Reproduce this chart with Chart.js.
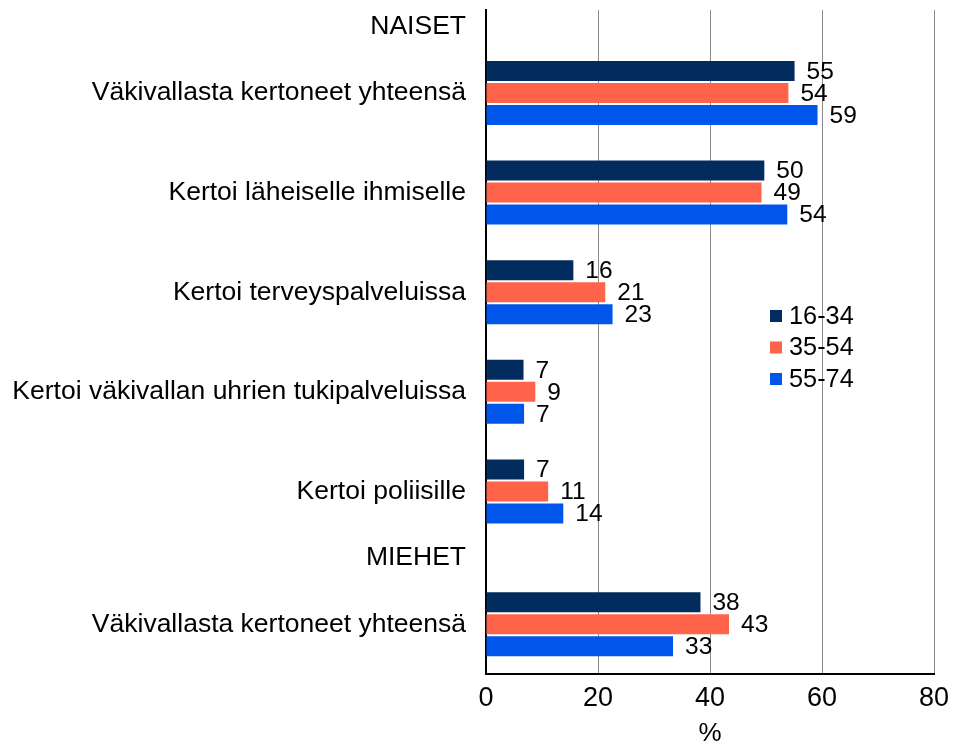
<!DOCTYPE html>
<html lang="fi">
<head>
    <meta charset="UTF-8">
    <title>Väkivallasta kertominen</title>
    <script src="https://cdn.jsdelivr.net/npm/chart.js@4.4.1/dist/chart.umd.min.js"></script>
    <style>
        html, body { margin: 0; padding: 0; background: #fff; }
        .chartBox { width: 954px; height: 745px; }
    </style>
</head>
<body>
    <div class="chartBox">
        <canvas id="myChart"></canvas>
    </div>

    <script>
        // data
        var ageGroups = ['16-34', '35-54', '55-74'];
        var categories = [
            'Väkivallasta kertoneet yhteensä',
            'Kertoi läheiselle ihmiselle',
            'Kertoi terveyspalveluissa',
            'Kertoi väkivallan uhrien tukipalveluissa',
            'Kertoi poliisille',
            'Väkivallasta kertoneet yhteensä'
        ];
        var age16_34 = [55.1, 49.7, 15.6, 6.7, 6.8, 38.3];
        var age35_54 = [54.0, 49.2, 21.3, 8.8, 11.1, 43.4];
        var age55_74 = [59.2, 53.8, 22.6, 6.8, 13.8, 33.4];
        var xTicks = [0, 20, 40, 60, 80];

        // rows of the y axis: strings are headers / blank rows, numbers point into categories
        var rowPlan = ['NAISET', '', 0, '', '', 1, '', '', 2, '', '', 3, '', '', 4, '', 'MIEHET', '', 5, ''];

        var colors = ['#022b5e', '#ff6349', '#0056ea'];
        var fontFamily = "'Liberation Sans', Arial, sans-serif";

        var rowLabels = rowPlan.map(function (r) {
            return typeof r === 'number' ? categories[r] : r;
        });

        function toRows(values) {
            return rowPlan.map(function (r) {
                return typeof r === 'number' ? values[r] : null;
            });
        }

        var series = [age16_34, age35_54, age55_74];

        Chart.defaults.font.family = fontFamily;
        Chart.defaults.color = '#000';

        // value labels next to the bar ends
        var valueLabels = {
            id: 'valueLabels',
            afterDatasetsDraw: function (chart) {
                var ctx = chart.ctx;
                ctx.save();
                ctx.font = '24.5px ' + fontFamily;
                ctx.fillStyle = '#000';
                ctx.textAlign = 'left';
                ctx.textBaseline = 'middle';
                chart.data.datasets.forEach(function (ds, i) {
                    var meta = chart.getDatasetMeta(i);
                    meta.data.forEach(function (bar, j) {
                        var v = ds.data[j];
                        if (v === null || v === undefined) return;
                        ctx.fillText(String(Math.round(v)), bar.x + 12, bar.y + 1);
                    });
                });
                ctx.restore();
            }
        };

        // legend inside the plot area
        var innerLegend = {
            id: 'innerLegend',
            afterDraw: function (chart) {
                var ctx = chart.ctx;
                var area = chart.chartArea;
                var x = area.left + 284;
                var y = area.top + 306;
                ctx.save();
                ctx.font = '25.3px ' + fontFamily;
                ctx.textAlign = 'left';
                ctx.textBaseline = 'middle';
                chart.data.datasets.forEach(function (ds, i) {
                    var cy = y + i * 31.5;
                    ctx.fillStyle = ds.backgroundColor;
                    ctx.fillRect(x, cy - 6, 12, 12);
                    ctx.fillStyle = '#000';
                    ctx.fillText(ds.label, x + 19, cy + 1);
                });
                ctx.restore();
            }
        };

        var ctx = document.getElementById('myChart').getContext('2d');
        var myChart = new Chart(ctx, {
            type: 'bar',
            data: {
                labels: rowLabels,
                datasets: ageGroups.map(function (g, i) {
                    return {
                        label: g,
                        data: toRows(series[i]),
                        backgroundColor: colors[i],
                        borderWidth: 0,
                        barPercentage: 0.91,
                        categoryPercentage: 1.988
                    };
                })
            },
            options: {
                indexAxis: 'y',
                responsive: true,
                maintainAspectRatio: false,
                animation: false,
                layout: {
                    padding: { top: 10, right: 20, bottom: 0, left: 10 }
                },
                plugins: {
                    legend: { display: false },
                    tooltip: { enabled: false }
                },
                scales: {
                    x: {
                        min: 0,
                        max: 80,
                        afterBuildTicks: function (scale) {
                            scale.ticks = xTicks.map(function (v) { return { value: v }; });
                        },
                        afterFit: function (scale) {
                            scale.height = 71;
                            scale.paddingLeft = 0;
                            scale.paddingRight = 0;
                        },
                        grid: {
                            color: function (c) {
                                return c.tick && c.tick.value === 0 ? '#000' : '#8a8a8a';
                            },
                            lineWidth: 1,
                            drawTicks: false
                        },
                        border: { color: '#000', width: 2 },
                        ticks: {
                            padding: 8,
                            font: { size: 27 }
                        },
                        title: {
                            display: true,
                            text: '%',
                            font: { size: 26, lineHeight: 0.86 },
                            padding: 0
                        }
                    },
                    y: {
                        afterFit: function (scale) {
                            scale.width = 476;
                            scale.paddingTop = 0;
                            scale.paddingBottom = 0;
                        },
                        grid: { display: false, drawTicks: false },
                        border: { color: '#000', width: 2 },
                        ticks: {
                            autoSkip: false,
                            padding: 20,
                            font: { size: 26.5 }
                        }
                    }
                }
            },
            plugins: [valueLabels, innerLegend]
        });
    </script>
</body>
</html>
